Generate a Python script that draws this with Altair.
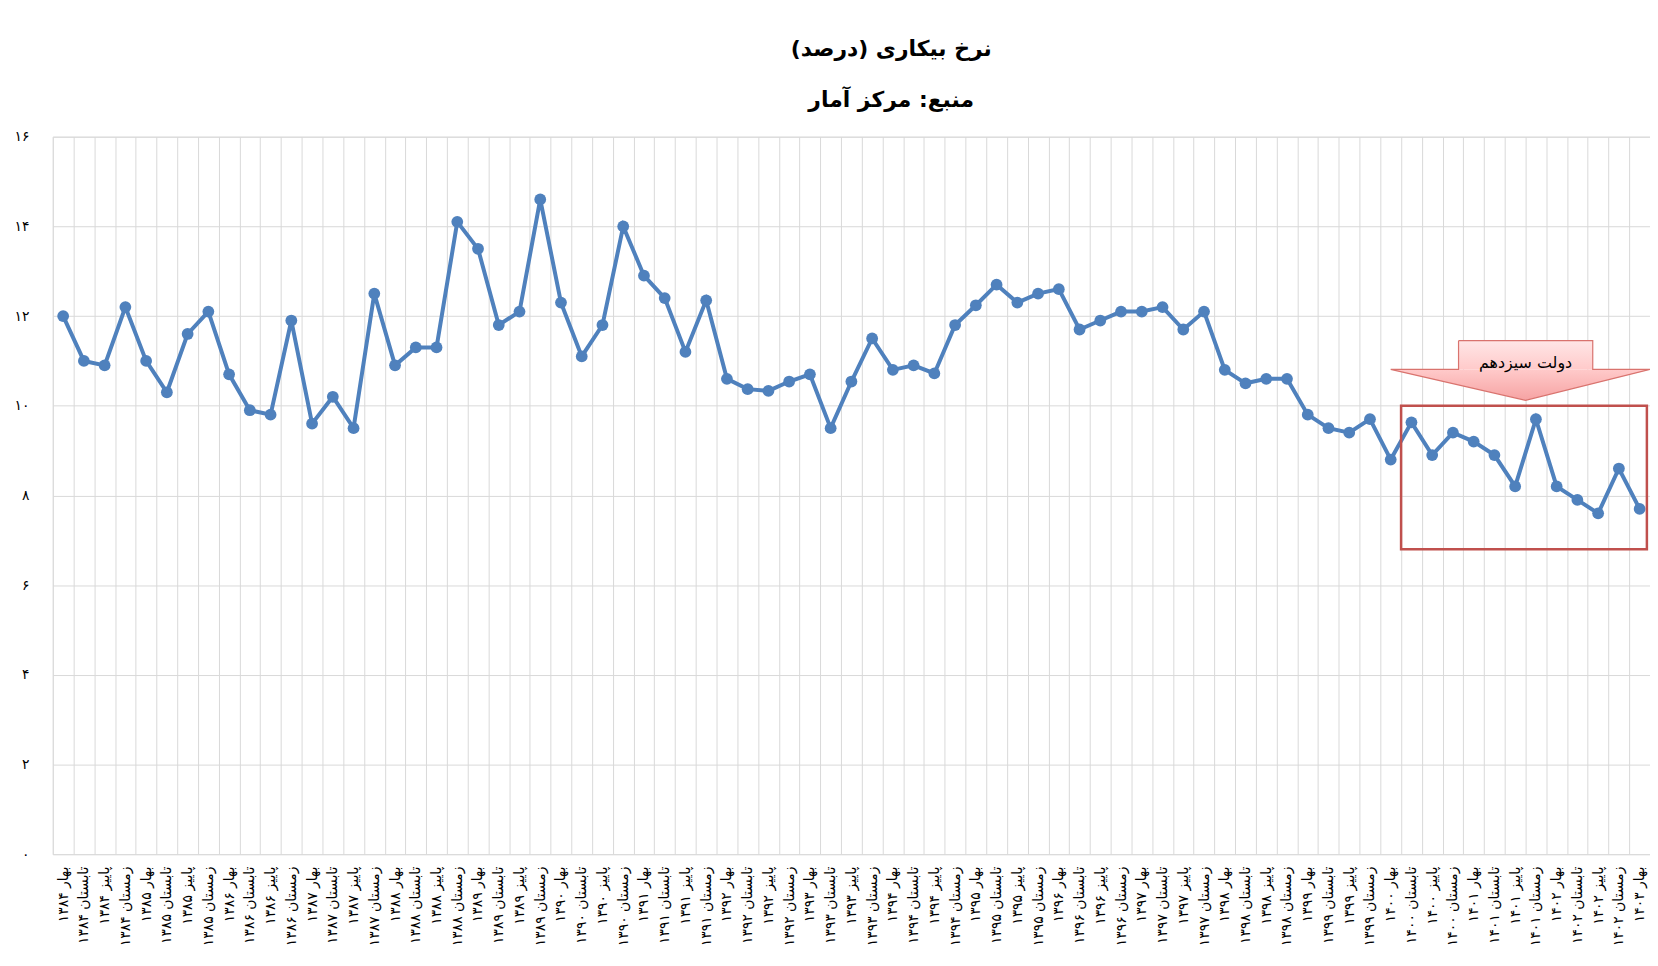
import altair as alt
import pandas as pd

# ---- data ----
seasons = ["بهار", "تابستان", "پاییز", "زمستان"]
years = list(range(1384, 1404))
rates = [
    12.0, 11.0, 10.9, 12.2,   # 1384
    11.0, 10.3, 11.6, 12.1,   # 1385
    10.7, 9.9, 9.8, 11.9,     # 1386
    9.6, 10.2, 9.5, 12.5,     # 1387
    10.9, 11.3, 11.3, 14.1,   # 1388
    13.5, 11.8, 12.1, 14.6,   # 1389
    12.3, 11.1, 11.8, 14.0,   # 1390
    12.9, 12.4, 11.2, 12.35,  # 1391
    10.6, 10.37, 10.33, 10.54,  # 1392
    10.7, 9.5, 10.54, 11.5,   # 1393
    10.8, 10.9, 10.72, 11.8,  # 1394
    12.24, 12.7, 12.3, 12.5,  # 1395
    12.6, 11.7, 11.9, 12.1,   # 1396
    12.1, 12.2, 11.7, 12.1,   # 1397
    10.8, 10.5, 10.6, 10.6,   # 1398
    9.8, 9.5, 9.4, 9.7,       # 1399
    8.8, 9.63, 8.9, 9.4,      # 1400
    9.2, 8.9, 8.2, 9.7,       # 1401
    8.2, 7.9, 7.6, 8.6,       # 1402
    7.7,                      # 1403
]
y_ticks = [0, 2, 4, 6, 8, 10, 12, 14, 16]

fa_digits = str.maketrans("0123456789", "۰۱۲۳۴۵۶۷۸۹")
labels = [f"{s} {str(y).translate(fa_digits)}" for y in years for s in seasons][: len(rates)]
df = pd.DataFrame({"period": labels, "rate": rates})

# annotation geometry (in band units along x, rate units along y)
box_x = [65.0, 76.85]
box_y = [10.0, 6.8]
callout_rect_x = [67.77, 74.24]
callout_rect_y = [10.81, 11.45]
tri_x = [64.5, 71.0, 77.0]
tri_y = [10.81, 10.12, 10.81]
tri_base = 10.81
outline_x = [67.77, 74.24, 74.24, 77.0, 71.0, 64.5, 67.77, 67.77]
outline_y = [11.45, 11.45, 10.81, 10.81, 10.12, 10.81, 10.81, 11.45]
callout_text = "دولت سیزدهم"
callout_pos = (71.0, 10.95)

BLUE = "#4F81BD"
GRID = "#D9D9D9"
FONT = "DejaVu Sans"

fa_expr = "datum.label"
for d, f in zip("0123456789", "۰۱۲۳۴۵۶۷۸۹"):
    fa_expr = f"replace({fa_expr}, '{d}', '{f}')"

x_enc = alt.X(
    "period:N",
    sort=labels,
    scale=alt.Scale(type="band", paddingInner=0, paddingOuter=0),
    axis=alt.Axis(
        title=None, labelAngle=-90, tickBand="extent", grid=True, gridColor=GRID,
        domain=False, ticks=False, labelPadding=12, labelFontSize=14,
        labelColor="black", labelFont=FONT,
    ),
)
y_enc = alt.Y(
    "rate:Q",
    scale=alt.Scale(domain=[0, 16], nice=False, zero=True),
    axis=alt.Axis(
        title=None, values=y_ticks, grid=True, gridColor=GRID, domain=False,
        ticks=False, labelPadding=24, labelFontSize=14, labelColor="black",
        labelFont=FONT, labelExpr=fa_expr,
    ),
)

base = alt.Chart(df).encode(x=x_enc, y=y_enc)
main = alt.layer(
    base.mark_line(color=BLUE, strokeWidth=4),
    base.mark_point(filled=True, size=140, color=BLUE, opacity=1),
)

ax = alt.Scale(domain=[0, 77], nice=False, zero=False)
ay = alt.Scale(domain=[0, 16], nice=False, zero=True)

box = alt.Chart(pd.DataFrame({"x": [box_x[0]], "x2": [box_x[1]], "y": [box_y[0]], "y2": [box_y[1]]})).mark_rect(
    fillOpacity=0, stroke="#C0504D", strokeWidth=2.5
).encode(
    x=alt.X("x:Q", scale=ax, axis=None), x2="x2:Q",
    y=alt.Y("y:Q", scale=ay, axis=None), y2="y2:Q",
)

tri = alt.Chart(pd.DataFrame({"x": tri_x, "y": tri_y, "b": [tri_base] * 3})).mark_area(
    color=alt.Gradient(
        gradient="linear",
        stops=[alt.GradientStop(color="#FFCACA", offset=0), alt.GradientStop(color="#F6A3A3", offset=1)],
        x1=0, x2=0, y1=0, y2=1,
    ),
    opacity=1,
).encode(
    x=alt.X("x:Q", scale=ax, axis=None),
    y=alt.Y("y:Q", scale=ay, axis=None), y2="b:Q",
)

crect = alt.Chart(pd.DataFrame({"x": [callout_rect_x[0]], "x2": [callout_rect_x[1]],
                                "y": [callout_rect_y[0]], "y2": [callout_rect_y[1]]})).mark_rect(
    color=alt.Gradient(
        gradient="linear",
        stops=[alt.GradientStop(color="#FFE6E6", offset=0), alt.GradientStop(color="#FFCACA", offset=1)],
        x1=0, x2=0, y1=0, y2=1,
    ),
).encode(
    x=alt.X("x:Q", scale=ax, axis=None), x2="x2:Q",
    y=alt.Y("y:Q", scale=ay, axis=None), y2="y2:Q",
)

outline = alt.Chart(pd.DataFrame({"x": outline_x, "y": outline_y, "o": list(range(len(outline_x)))})).mark_line(
    color="#D9736E", strokeWidth=1.2
).encode(
    x=alt.X("x:Q", scale=ax, axis=None),
    y=alt.Y("y:Q", scale=ay, axis=None),
    order="o:Q",
)

txt = alt.Chart(pd.DataFrame({"x": [callout_pos[0]], "y": [callout_pos[1]], "t": [callout_text]})).mark_text(
    font=FONT, fontSize=16, color="black", baseline="middle", align="center"
).encode(
    x=alt.X("x:Q", scale=ax, axis=None),
    y=alt.Y("y:Q", scale=ay, axis=None),
    text="t:N",
)

annot = alt.layer(box, tri, crect, outline, txt)

chart = alt.layer(main, annot).resolve_scale(x="independent", y="independent").properties(
    width=1605,
    height=721,
    autosize=alt.AutoSizeParams(type="none"),
    padding={"left": 45, "top": 127, "right": 0, "bottom": 95},
    title=alt.TitleParams(
        text="نرخ بیکاری (درصد)",
        subtitle="منبع: مرکز آمار",
        font=FONT, fontSize=22, fontWeight="bold", color="black",
        subtitleFont=FONT, subtitleFontSize=22, subtitleFontWeight="bold", subtitleColor="black",
        anchor="middle", offset=18, subtitlePadding=29, dx=40,
    ),
).configure_view(stroke=GRID).configure(background="white")

chart.save("out.html", embed_options={"renderer": "svg", "actions": False})
